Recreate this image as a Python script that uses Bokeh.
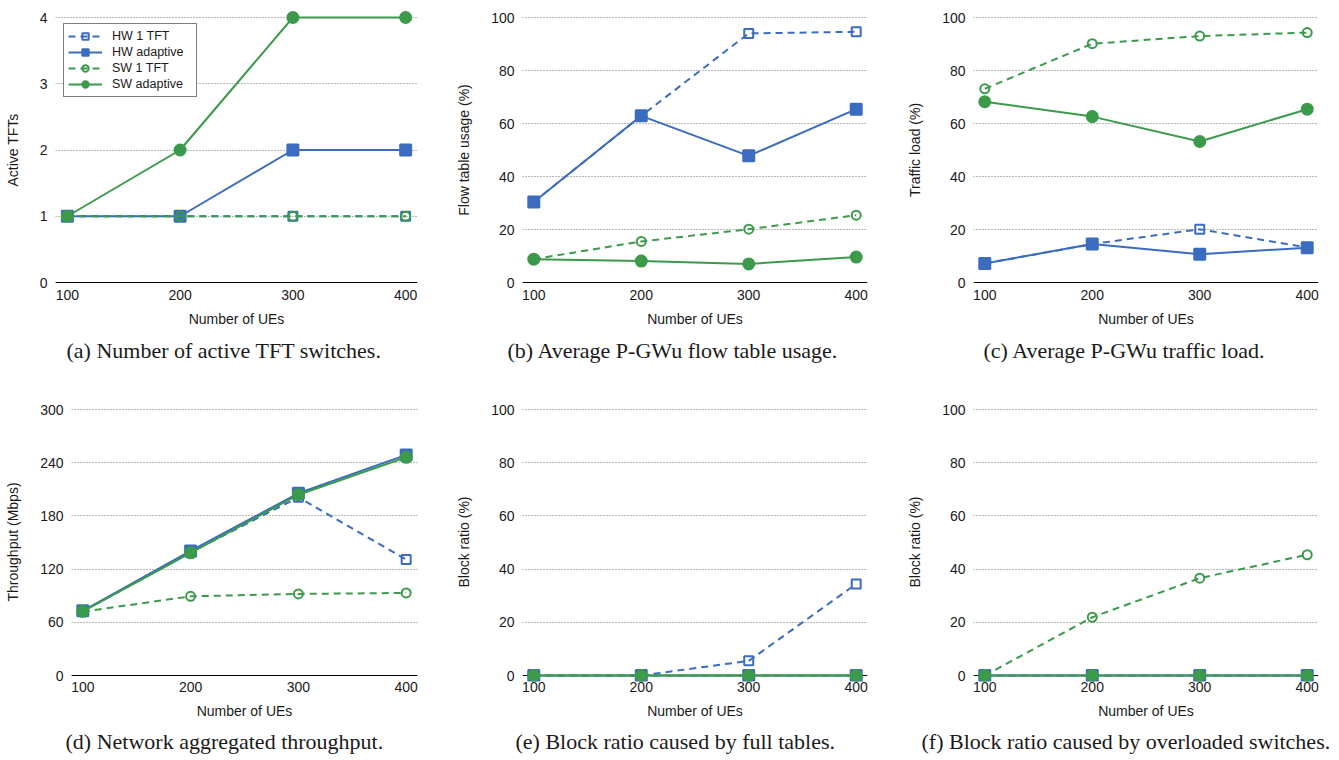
from bokeh.plotting import figure
from bokeh.layouts import column, row
from bokeh.models import FixedTicker, Range1d, Span, Title
from bokeh.embed import file_html
from bokeh.resources import INLINE

# ---------------- data ----------------
ues = [100, 200, 300, 400]
series_names = ["HW 1 TFT", "HW adaptive", "SW 1 TFT", "SW adaptive"]

# (a) Active TFTs
a_hw1 = [1, 1, 1, 1]
a_hwad = [1, 1, 2, 2]
a_sw1 = [1, 1, 1, 1]
a_swad = [1, 2, 4, 4]

# (b) Flow table usage (%)
b_hw1 = [30.4, 62.9, 94.0, 94.6]
b_hwad = [30.4, 62.9, 47.8, 65.4]
b_sw1 = [8.8, 15.5, 20.1, 25.4]
b_swad = [8.8, 8.1, 7.0, 9.6]

# (c) Traffic load (%)
c_hw1 = [7.2, 14.5, 20.1, 13.2]
c_hwad = [7.2, 14.5, 10.7, 13.1]
c_sw1 = [73.1, 90.1, 93.0, 94.3]
c_swad = [68.2, 62.6, 53.2, 65.4]

# (d) Throughput (Mbps)
d_hw1 = [72.5, 139.0, 201.0, 130.8]
d_hwad = [73.0, 140.5, 205.5, 248.8]
d_sw1 = [72.0, 89.3, 92.0, 93.1]
d_swad = [72.4, 138.3, 203.9, 246.1]

# (e) Block ratio caused by full tables (%)
e_hw1 = [0, 0, 5.5, 34.4]
e_hwad = [0, 0, 0, 0]
e_sw1 = [0, 0, 0, 0]
e_swad = [0, 0, 0, 0]

# (f) Block ratio caused by overloaded switches (%)
f_hw1 = [0, 0, 0, 0]
f_hwad = [0, 0, 0, 0]
f_sw1 = [0, 21.9, 36.6, 45.4]
f_swad = [0, 0, 0, 0]

ticks_tft = [0, 1, 2, 3, 4]
ticks_pct = [0, 20, 40, 60, 80, 100]
ticks_thr = [0, 60, 120, 180, 240, 300]

captions = [
    "(a) Number of active TFT switches.",
    "(b) Average P-GWu flow table usage.",
    "(c) Average P-GWu traffic load.",
    "(d) Network aggregated throughput.",
    "(e) Block ratio caused by full tables.",
    "(f) Block ratio caused by overloaded switches.",
]

# ---------------- style ----------------
BLUE = "#3b6cc0"
GREEN = "#3c9a4b"
SANS = "Liberation Sans"
SERIF = "Liberation Serif"
TXT = "#1a1a1a"

styles = [
    dict(color=BLUE, dash="7 5", marker="square", filled=False),
    dict(color=BLUE, dash="solid", marker="square", filled=True),
    dict(color=GREEN, dash="7 5", marker="circle", filled=False),
    dict(color=GREEN, dash="solid", marker="circle", filled=True),
]


def panel(data, ymax, ticks, ylabel, caption, width, height, left, right,
          top, bottom, pad_top, pad_bot, cap_off, cap_standoff,
          legend=False):
    frame_h = height - top - bottom
    scale = ymax / (frame_h - pad_top - pad_bot)
    p = figure(width=width, height=height, output_backend="svg",
               toolbar_location=None, x_range=Range1d(89.5, 410.5),
               y_range=Range1d(-pad_bot * scale, ymax + pad_top * scale),
               min_border_left=left, min_border_right=right,
               min_border_top=top, min_border_bottom=bottom)
    p.outline_line_color = None
    p.background_fill_color = "white"
    p.border_fill_color = "white"
    p.xgrid.grid_line_color = None
    p.ygrid.grid_line_color = "#707070"
    p.ygrid.grid_line_dash = "1 2"
    p.ygrid.grid_line_width = 1

    xa = p.xaxis[0]
    xa.ticker = FixedTicker(ticks=ues)
    xa.axis_line_color = None
    xa.major_tick_line_color = None
    xa.major_tick_in = 0
    xa.major_tick_out = 0
    xa.minor_tick_line_color = None
    xa.major_label_standoff = 0
    xa.major_label_text_font = SANS
    xa.major_label_text_font_size = "14px"
    xa.major_label_text_color = TXT
    xa.axis_label = "Number of UEs"
    xa.axis_label_text_font = SANS
    xa.axis_label_text_font_size = "14px"
    xa.axis_label_text_font_style = "normal"
    xa.axis_label_text_color = TXT
    xa.axis_label_standoff = 8

    ya = p.yaxis[0]
    ya.ticker = FixedTicker(ticks=ticks)
    ya.axis_line_color = None
    ya.major_tick_line_color = None
    ya.minor_tick_line_color = None
    ya.major_tick_in = 0
    ya.major_tick_out = 0
    ya.major_label_standoff = 8
    ya.major_label_text_font = SANS
    ya.major_label_text_font_size = "14px"
    ya.major_label_text_color = TXT
    ya.axis_label = ylabel
    ya.axis_label_text_font = SANS
    ya.axis_label_text_font_size = "14px"
    ya.axis_label_text_font_style = "normal"
    ya.axis_label_text_color = TXT
    ya.axis_label_standoff = 16

    # horizontal axis line at y = 0
    p.add_layout(Span(location=0, dimension="width", line_color="black",
                      line_width=1, level="underlay"))

    for name, vals, st in zip(series_names, data, styles):
        kw = dict(legend_label=name) if legend else {}
        p.line(ues, vals, line_color=st["color"], line_width=2,
               line_dash=st["dash"], **kw)
        size = 11 if st["filled"] else 9
        p.scatter(ues, vals, marker=st["marker"], size=size,
                  line_color=st["color"], line_width=2,
                  fill_color=st["color"] if st["filled"] else "white",
                  fill_alpha=1.0 if st["filled"] else 0.0, **kw)

    if legend:
        lg = p.legend[0]
        lg.location = (8, 192)
        lg.border_line_color = "black"
        lg.border_line_width = 1
        lg.background_fill_color = "white"
        lg.background_fill_alpha = 1.0
        lg.padding = 4
        lg.spacing = 0
        lg.margin = 0
        lg.label_height = 16
        lg.glyph_height = 16
        lg.glyph_width = 34
        lg.label_width = 80
        lg.label_standoff = 10
        lg.label_text_font = SANS
        lg.label_text_font_size = "12.5px"
        lg.label_text_color = TXT

    p.add_layout(Title(text=caption, align="left", offset=cap_off,
                       text_font=SERIF, text_font_size="22px",
                       text_font_style="normal", text_color=TXT,
                       standoff=cap_standoff), "below")
    return p


TOP_H, BOT_H = 378, 381
pa = panel([a_hw1, a_hwad, a_sw1, a_swad], 4, ticks_tft, "Active TFTs",
           captions[0], 440, TOP_H, 55, 23, 10, 89, 7, 7, 11, 13,
           legend=True)
pb = panel([b_hw1, b_hwad, b_sw1, b_swad], 100, ticks_pct,
           "Flow table usage (%)", captions[1], 450, TOP_H, 82, 23, 10, 89,
           7, 7, -15, 13)
pc = panel([c_hw1, c_hwad, c_sw1, c_swad], 100, ticks_pct,
           "Traffic load (%)", captions[2], 448, TOP_H, 83, 20, 10, 89,
           7, 7, 10, 13)
pd_ = panel([d_hw1, d_hwad, d_sw1, d_swad], 300, ticks_thr,
            "Throughput (Mbps)", captions[3], 440, BOT_H, 71, 23, 24, 78,
            7, 6, -6, 11)
pe = panel([e_hw1, e_hwad, e_sw1, e_swad], 100, ticks_pct,
           "Block ratio (%)", captions[4], 450, BOT_H, 82, 23, 24, 78,
           7, 6, -7, 11)
pf = panel([f_hw1, f_hwad, f_sw1, f_swad], 100, ticks_pct,
           "Block ratio (%)", captions[5], 448, BOT_H, 83, 20, 24, 78,
           7, 6, -52, 11)

layout = column(row(pa, pb, pc), row(pd_, pe, pf))
open("out.html", "w").write(file_html(layout, INLINE))
